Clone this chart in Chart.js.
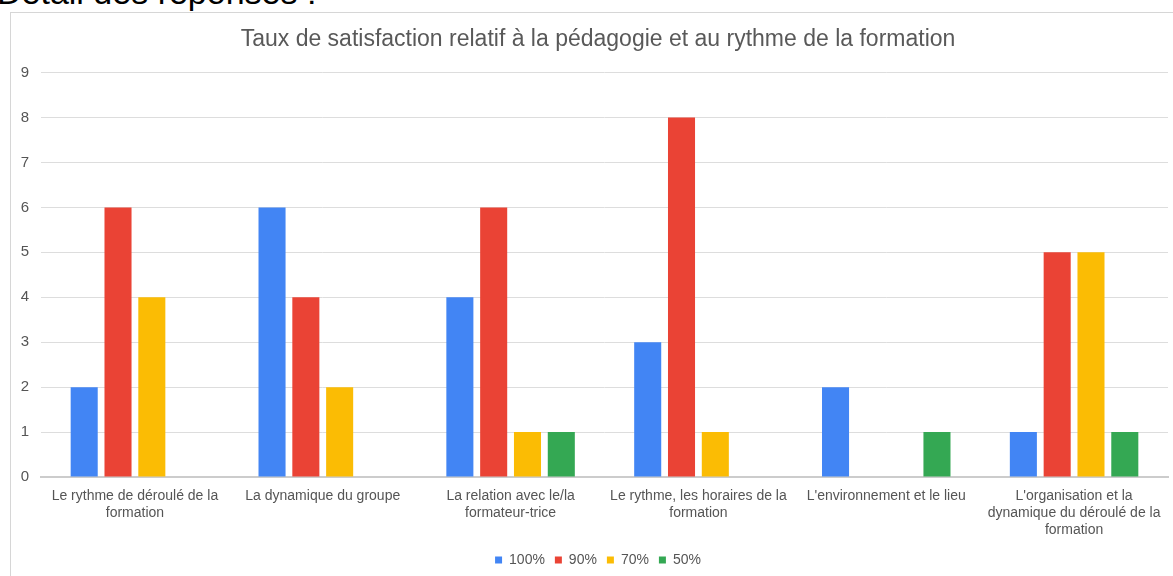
<!DOCTYPE html>
<html>
<head>
<meta charset="utf-8">
<script src="https://cdn.jsdelivr.net/npm/chart.js@4"></script>
<style>
  html, body { margin: 0; padding: 0; background: #fff; overflow: hidden; }
  body { width: 1173px; height: 576px; position: relative; font-family: "Liberation Sans", Arial, sans-serif; }
  #heading { position: absolute; left: -3px; top: -25px; font-size: 34px; line-height: 34px; color: #000; white-space: nowrap; }
  #box { position: absolute; left: 10px; top: 12px; width: 1180px; height: 600px; border: 1px solid #d6d6d6; }
  #wrap { position: absolute; left: 11px; top: 13px; width: 1174px; height: 564px; }
</style>
</head>
<body>
<div id="heading">Détail des réponses :</div>
<div id="box"></div>
<div id="wrap"><canvas id="chart"></canvas></div>
<script>
// categories (wrapped as in the picture)
const categories = [
    ['Le rythme de déroulé de la', 'formation'],
    ['La dynamique du groupe'],
    ['La relation avec le/la', 'formateur-trice'],
    ['Le rythme, les horaires de la', 'formation'],
    ["L'environnement et le lieu"],
    ["L'organisation et la", 'dynamique du déroulé de la', 'formation']
];

const seriesNames = ['100%', '90%', '70%', '50%'];
const seriesColors = ['#4285F4', '#EA4335', '#FBBC04', '#34A853'];

const values100 = [2, 6, 4, 3, 2, 1];
const values90 = [6, 4, 6, 8, 0, 5];
const values70 = [4, 2, 1, 1, 0, 5];
const values50 = [0, 0, 1, 0, 1, 1];

const allValues = [values100, values90, values70, values50];

const font = '"Liberation Sans", Arial';
const ctx = document.getElementById('chart').getContext('2d');

new Chart(ctx, {
    type: 'bar',
    data: {
        labels: categories,
        datasets: allValues.map((vals, i) => ({
            label: seriesNames[i],
            data: vals,
            backgroundColor: seriesColors[i],
            borderWidth: 0,
            categoryPercentage: 0.72,
            barPercentage: 0.8
        }))
    },
    options: {
        responsive: true,
        maintainAspectRatio: false,
        animation: false,
        layout: { padding: 0 },
        plugins: {
            title: {
                display: true,
                text: 'Taux de satisfaction relatif à la pédagogie et au rythme de la formation',
                color: '#595959',
                font: { family: font, size: 23, weight: 'normal' },
                padding: { top: 13, bottom: 19 }
            },
            legend: {
                position: 'bottom',
                labels: {
                    boxWidth: 7,
                    boxHeight: 7,
                    color: '#555',
                    padding: 10,
                    font: { family: font, size: 14 }
                }
            },
            tooltip: { enabled: false }
        },
        scales: {
            x: {
                grid: { display: false, drawTicks: false },
                border: { color: '#cccccc', width: 2 },
                ticks: {
                    color: '#555',
                    maxRotation: 0,
                    autoSkip: false,
                    padding: 11,
                    font: { family: font, size: 14, lineHeight: 1.2 }
                },
                afterFit: (scale) => { scale.height = 66; }
            },
            y: {
                min: 0,
                max: 9,
                grid: { color: '#dddddd', drawTicks: false },
                border: { display: false },
                ticks: {
                    stepSize: 1,
                    color: '#555',
                    padding: 12,
                    font: { family: font, size: 15 }
                },
                afterFit: (scale) => { scale.width = 30; }
            },
            // empty right axis, only keeps the plot off the right edge
            yRight: {
                position: 'right',
                grid: { drawOnChartArea: false, drawTicks: false },
                border: { display: false },
                ticks: { display: false },
                afterFit: (scale) => { scale.width = 17; }
            }
        }
    }
});
</script>
</body>
</html>
